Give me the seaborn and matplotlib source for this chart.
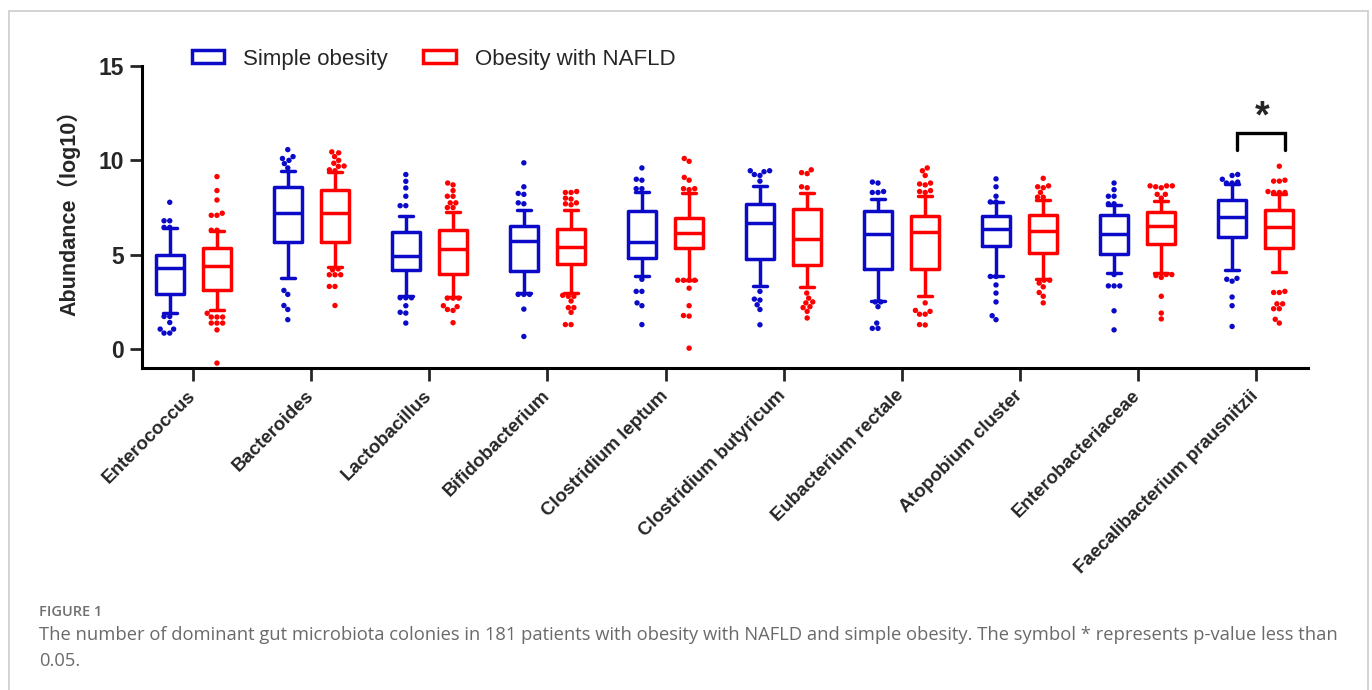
import matplotlib
matplotlib.use("Agg")
import matplotlib.pyplot as plt
from matplotlib.patches import Patch
from matplotlib.lines import Line2D
import pandas as pd
import seaborn as sns

taxa = ["Enterococcus", "Bacteroides", "Lactobacillus", "Bifidobacterium",
        "Clostridium leptum", "Clostridium butyricum", "Eubacterium rectale",
        "Atopobium cluster", "Enterobacteriaceae", "Faecalibacterium prausnitzii"]
groups = ["Simple obesity", "Obesity with NAFLD"]
colors = ["#0A0AC8", "#FF0000"]

# Box summaries of log10 abundance: lower whisker, Q1, median, Q3, upper whisker
simple_low = [1.94, 3.78, 2.83, 2.97, 3.89, 3.32, 2.53, 3.89, 4.03, 4.21]
simple_q1 = [2.93, 5.66, 4.21, 4.12, 4.83, 4.79, 4.24, 5.45, 5.04, 5.94]
simple_med = [4.28, 7.21, 4.95, 5.75, 5.68, 6.68, 6.12, 6.37, 6.12, 6.98]
simple_q3 = [4.99, 8.61, 6.19, 6.50, 7.34, 7.69, 7.34, 7.04, 7.09, 7.88]
simple_high = [6.42, 9.42, 7.04, 7.36, 8.33, 8.63, 7.97, 7.78, 7.65, 8.75]

nafld_low = [2.08, 4.33, 2.74, 2.97, 3.68, 3.27, 2.83, 3.71, 4.03, 4.08]
nafld_q1 = [3.15, 5.67, 3.98, 4.51, 5.36, 4.44, 4.24, 5.09, 5.57, 5.36]
nafld_med = [4.42, 7.21, 5.32, 5.41, 6.15, 5.84, 6.19, 6.24, 6.54, 6.45]
nafld_q3 = [5.37, 8.45, 6.33, 6.38, 6.95, 7.43, 7.07, 7.12, 7.25, 7.39]
nafld_high = [6.24, 9.37, 7.25, 7.36, 8.28, 8.28, 8.10, 7.88, 7.87, 8.24]

# Individual samples outside the whiskers
simple_outliers = [
    [6.45, 6.45, 6.8, 6.8, 7.78, 1.73, 1.73, 1.41, 1.06, 1.06, 0.85, 0.85],
    [9.6, 9.83, 10.0, 10.1, 10.2, 10.57, 3.11, 2.9, 2.31, 2.1, 1.56],
    [7.6, 7.6, 8.1, 8.54, 8.89, 9.25, 2.72, 2.72, 2.72, 2.3, 1.95, 1.91, 1.38],
    [7.7, 7.75, 8.2, 8.25, 8.6, 9.87, 2.9, 2.9, 2.9, 2.12, 0.67],
    [8.5, 8.5, 8.95, 9.0, 9.6, 3.7, 3.06, 3.06, 2.45, 2.3, 1.3],
    [8.9, 9.2, 9.25, 9.4, 9.45, 9.45, 3.06, 2.6, 2.65, 2.35, 2.1, 1.29],
    [8.3, 8.3, 8.35, 8.8, 8.85, 2.5, 2.5, 2.25, 1.38, 1.1, 1.1],
    [7.8, 7.8, 8.1, 8.6, 9.02, 3.85, 3.85, 3.4, 2.97, 2.5, 1.77, 1.56],
    [7.7, 7.7, 8.1, 8.1, 8.45, 8.8, 3.95, 3.35, 3.35, 3.35, 2.03, 1.02],
    [8.8, 8.8, 8.85, 9.0, 9.2, 9.25, 3.75, 3.7, 3.6, 2.76, 2.3, 1.2],
]
nafld_outliers = [
    [6.3, 6.3, 7.09, 7.09, 7.2, 7.9, 8.4, 9.14, 1.9, 1.7, 1.7, 1.7, 1.38, 1.38,
     1.38, 1.02, -0.74],
    [9.45, 9.5, 9.68, 9.7, 9.85, 10.0, 10.2, 10.4, 10.45, 4.2, 4.25, 3.94, 3.94,
     3.94, 3.32, 3.32, 2.31],
    [7.5, 7.5, 7.75, 7.75, 8.1, 8.1, 8.4, 8.7, 8.8, 2.7, 2.7, 2.7, 2.3, 2.25,
     2.1, 2.05, 1.4],
    [7.65, 7.7, 7.75, 7.95, 8.0, 8.3, 8.3, 8.35, 2.85, 2.8, 2.8, 2.55, 2.2, 2.2,
     1.95, 1.3, 1.3],
    [8.5, 8.5, 8.45, 8.95, 9.1, 9.95, 10.1, 3.65, 3.65, 3.65, 3.65, 3.23, 2.3,
     1.78, 1.75, 0.05],
    [8.55, 8.6, 9.3, 9.35, 9.5, 2.97, 2.7, 2.5, 2.45, 2.25, 2.2, 2.0, 1.65],
    [8.3, 8.35, 8.4, 8.7, 8.75, 8.8, 9.2, 9.45, 9.6, 2.45, 2.05, 2.0, 1.85, 1.85,
     1.3, 1.28],
    [8.05, 8.05, 8.3, 8.55, 8.6, 8.65, 9.05, 3.65, 3.65, 3.5, 3.3, 3.0, 2.8,
     2.45],
    [8.0, 8.2, 8.2, 8.55, 8.6, 8.65, 8.65, 8.65, 3.95, 3.95, 3.9, 3.8, 2.8, 1.91,
     1.6],
    [8.3, 8.3, 8.3, 8.35, 8.9, 8.9, 8.95, 9.69, 3.06, 3.0, 3.0, 2.4, 2.4, 2.14,
     2.14, 1.58, 1.38],
]

# Long-form tables: five summary values per box, and the outlying samples
box_rows = []
for grp, parts in zip(groups, [
        (simple_low, simple_q1, simple_med, simple_q3, simple_high),
        (nafld_low, nafld_q1, nafld_med, nafld_q3, nafld_high)]):
    for i, taxon in enumerate(taxa):
        for arr in parts:
            box_rows.append((taxon, grp, arr[i]))
box_df = pd.DataFrame(box_rows, columns=["taxon", "group", "abundance"])

out_rows = []
for grp, outs in zip(groups, [simple_outliers, nafld_outliers]):
    for taxon, vals in zip(taxa, outs):
        for v in vals:
            out_rows.append((taxon, grp, v))
out_df = pd.DataFrame(out_rows, columns=["taxon", "group", "abundance"])

sns.set_style("white")
plt.rcParams["font.family"] = ["Liberation Sans", "Noto Sans CJK SC", "DejaVu Sans"]

fig = plt.figure(figsize=(13.72, 6.90), dpi=100)
ax = fig.add_axes([142 / 1372, 1 - 368 / 690, (1308 - 142) / 1372, (368 - 66) / 690])

palette = dict(zip(groups, colors))
sns.boxplot(data=box_df, x="taxon", y="abundance", hue="group", order=taxa,
            hue_order=groups, palette=palette, width=0.8, gap=0.4,
            whis=(0, 100), fill=False, linewidth=2.5, legend=False, ax=ax)
sns.swarmplot(data=out_df, x="taxon", y="abundance", hue="group", order=taxa,
              hue_order=groups, palette=palette, dodge=True, size=3.9,
              legend=False, ax=ax, warn_thresh=1)

ax.set_xlim(-0.435, 9.443)
ax.set_ylim(-1, 15)
ax.set_yticks([0, 5, 10, 15])
ax.set_xlabel("")
ax.set_ylabel("Abundance（log10）", fontsize=15.5, fontweight="bold", labelpad=6)
ax.yaxis.set_label_coords(-62 / 1166, 0.53)

for side in ["top", "right"]:
    ax.spines[side].set_visible(False)
for side in ["left", "bottom"]:
    ax.spines[side].set_linewidth(2.2)
    ax.spines[side].set_color("black")
ax.spines["left"].set_bounds(-1, 15)

ax.tick_params(axis="y", length=9, width=2.0, labelsize=16.5, pad=4, left=True)
ax.tick_params(axis="x", length=9, width=2.0, labelsize=13.5, pad=9, bottom=True)
for lab in ax.get_yticklabels():
    lab.set_fontweight("bold")
for lab in ax.get_xticklabels():
    lab.set_fontweight("bold")
    lab.set_rotation(45)
    lab.set_ha("right")
    lab.set_va("center")
    lab.set_rotation_mode("anchor")

# Significance bracket over the last pair
ax.plot([8.84, 8.84, 9.25, 9.25], [10.54, 11.46, 11.46, 10.54], color="black",
        lw=2.4, clip_on=False, solid_joinstyle="miter")
ax.text(9.055, 12.25, "*", ha="center", va="center", fontsize=27,
        fontweight="bold", clip_on=False)

handles = [Patch(facecolor="white", edgecolor=c, linewidth=2.5) for c in colors]
ax.legend(handles, groups, loc="center left", bbox_to_anchor=(192 / 1372, 1 - 59 / 690),
          bbox_transform=fig.transFigure, ncol=2, frameon=False, fontsize=16,
          handlelength=1.45, handleheight=0.55, handletextpad=0.85,
          columnspacing=1.6, borderpad=0, borderaxespad=0)

# Caption
fig.text(39 / 1372, 1 - 612 / 690, "FIGURE 1", fontsize=10.5, color="#707070",
         fontweight="semibold", family="Open Sans", va="center")
fig.text(39 / 1372, 1 - 635 / 690,
         "The number of dominant gut microbiota colonies in 181 patients with obesity "
         "with NAFLD and simple obesity. The symbol * represents p-value less than",
         fontsize=13.2, color="#6a6a6a", family="Open Sans", va="center")
fig.text(39 / 1372, 1 - 661 / 690, "0.05.", fontsize=13.2, color="#6a6a6a",
         family="Open Sans", va="center")

# Page frame
frame_kw = dict(transform=fig.transFigure, color="#cccccc", lw=1.2)
fig.add_artist(Line2D([8.5 / 1372, 8.5 / 1372], [0, 1 - 11 / 690], **frame_kw))
fig.add_artist(Line2D([8.5 / 1372, 1368 / 1372], [1 - 11 / 690, 1 - 11 / 690], **frame_kw))
fig.add_artist(Line2D([1368 / 1372, 1368 / 1372], [0, 1 - 11 / 690], **frame_kw))

fig.savefig("out.png", dpi=100, facecolor="white")
